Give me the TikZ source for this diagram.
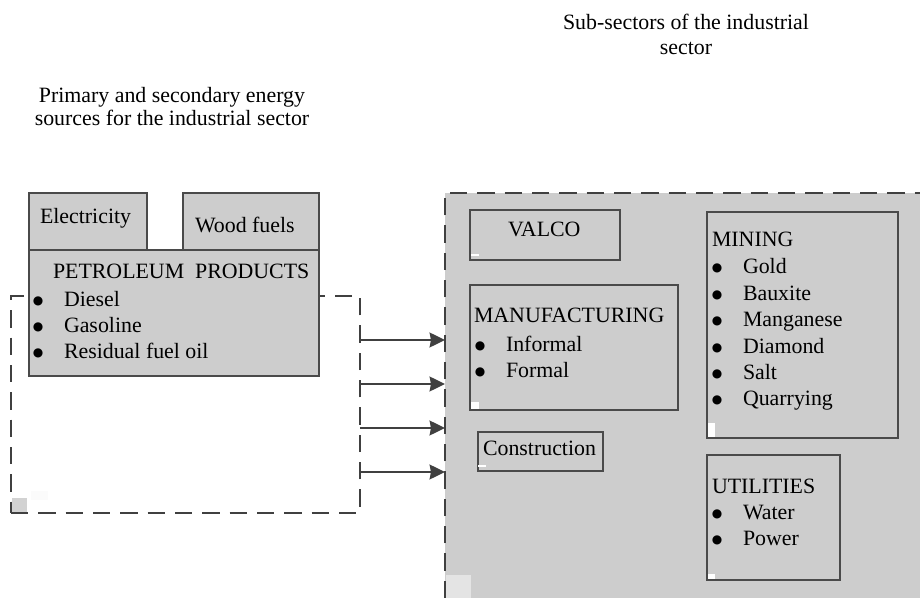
\documentclass[tikz,border=0pt]{standalone}
\usepackage{fontspec}
\setmainfont{Liberation Serif}
\newfontfamily\dvsans{DejaVu Sans}
\usetikzlibrary{arrows.meta}
\definecolor{fillgray}{HTML}{CDCDCD}
\definecolor{linegray}{HTML}{404040}
\definecolor{boxline}{HTML}{4A4A4A}
\newcommand\blt{\makebox[24pt][l]{\hspace{0.6pt}\raisebox{1.5pt}{\fontsize{9}{9}\selectfont\dvsans ●}}}
\begin{document}
\begin{tikzpicture}[x=0.75pt,y=-0.75pt,
  txt/.style={inner sep=0pt, outer sep=0pt, font=\fontsize{16.4}{19.8}\selectfont, text=black},
  graybox/.style={draw=boxline, line width=1.1pt, fill=fillgray, inner sep=0pt, outer sep=0pt, anchor=north west},
  dashline/.style={draw=linegray, line width=2.1pt, dash pattern=on 13pt off 7.5pt},
  arr/.style={draw=linegray, line width=1.9pt, -{Stealth[length=11.5pt,width=11pt,inset=1pt]}}
]
\useasboundingbox (0,0) rectangle (920,598);
\fill[white] (0,0) rectangle (920,598);

% titles
\node[txt, anchor=base] (ttlA) at (172,102.7)
  {\fontsize{16.4}{16.9}\selectfont\begin{tabular}[t]{@{}c@{}}Primary and secondary energy\\ sources for the industrial sector\end{tabular}};
\node[txt, anchor=base] (ttlB) at (686,29.3)
  {\fontsize{16.4}{18.8}\selectfont\begin{tabular}[t]{@{}c@{}}Sub-sectors of the industrial\\ sector\end{tabular}};

% destination region
\node[fill=fillgray, inner sep=0pt, outer sep=0pt, anchor=north west,
      minimum width=356.25pt, minimum height=303.75pt] (dst) at (445,193) {};
\fill[fill=white!45!fillgray] (446,575) rectangle (471,598);
\draw[dashline] (dst.south west) -- (dst.north west) -- (dst.north east);

% source dashed frame
\node[dashline, inner sep=0pt, outer sep=0pt, anchor=north west,
      minimum width=261.75pt, minimum height=162.75pt] (src) at (11,296) {};
\fill[fillgray!90!white] (12,498) rectangle (27,512);
\fill[white!92!fillgray] (31,491) rectangle (48,500);

% energy sources
\node[graybox, minimum width=88.5pt, minimum height=42.75pt] (elec) at (29,193) {};
\node[graybox, minimum width=102pt, minimum height=42.75pt] (wood) at (183,193) {};
\node[graybox, minimum width=217.5pt, minimum height=94.5pt] (petro) at (29,250) {};
\node[txt, anchor=base west] (elecT) at (40,224) {Electricity};
\node[txt, anchor=base west] (woodT) at (195,233) {Wood fuels};
\node[txt, anchor=base west] (petroT) at (53,279) {PETROLEUM\ \ PRODUCTS};
\node[txt, anchor=base west] (petroL) at (32,306)
  {\begin{tabular}[t]{@{}l@{}}\blt Diesel\\ \blt Gasoline\\ \blt Residual fuel oil\end{tabular}};

% arrows
\foreach \yy in {340,384,428,472}{
  \draw[arr] (src.east |- 0,\yy) -- (dst.west |- 0,\yy);
}

% sub-sectors
\node[graybox, minimum width=112.5pt, minimum height=37.5pt] (valco) at (470,210) {};
\node[graybox, minimum width=156pt, minimum height=93.75pt] (manu) at (470,285) {};
\node[graybox, minimum width=93.75pt, minimum height=29.25pt] (constr) at (478,432) {};
\node[graybox, minimum width=143.25pt, minimum height=169.5pt] (mining) at (707,212) {};
\node[graybox, minimum width=99.75pt, minimum height=93.75pt] (util) at (707,455) {};

\fill[white] (471,254) rectangle (479,256);
\fill[white] (471,402) rectangle (479,409);
\fill[white] (478,465) rectangle (486,467);
\fill[white] (708,423) rectangle (715,437);
\fill[white] (708,574) rectangle (715,579);

\node[txt, anchor=base west] (valcoT) at (508,237) {VALCO};
\node[txt, anchor=base west] (manuT) at (474,323) {MANUFACTURING};
\node[txt, anchor=base west] (manuL) at (474,351)
  {\begin{tabular}[t]{@{}l@{}}\blt Informal\\ \blt Formal\end{tabular}};
\node[txt, anchor=base west] (constrT) at (483,455) {Construction};
\node[txt, anchor=base west] (miningT) at (712,247) {MINING};
\node[txt, anchor=base west] (miningL) at (711,274)
  {\begin{tabular}[t]{@{}l@{}}\blt Gold\\ \blt Bauxite\\ \blt Manganese\\ \blt Diamond\\ \blt Salt\\ \blt Quarrying\end{tabular}};
\node[txt, anchor=base west] (utilT) at (712,493) {UTILITIES};
\node[txt, anchor=base west] (utilL) at (711,519)
  {\begin{tabular}[t]{@{}l@{}}\blt Water\\ \blt Power\end{tabular}};
\end{tikzpicture}
\end{document}
